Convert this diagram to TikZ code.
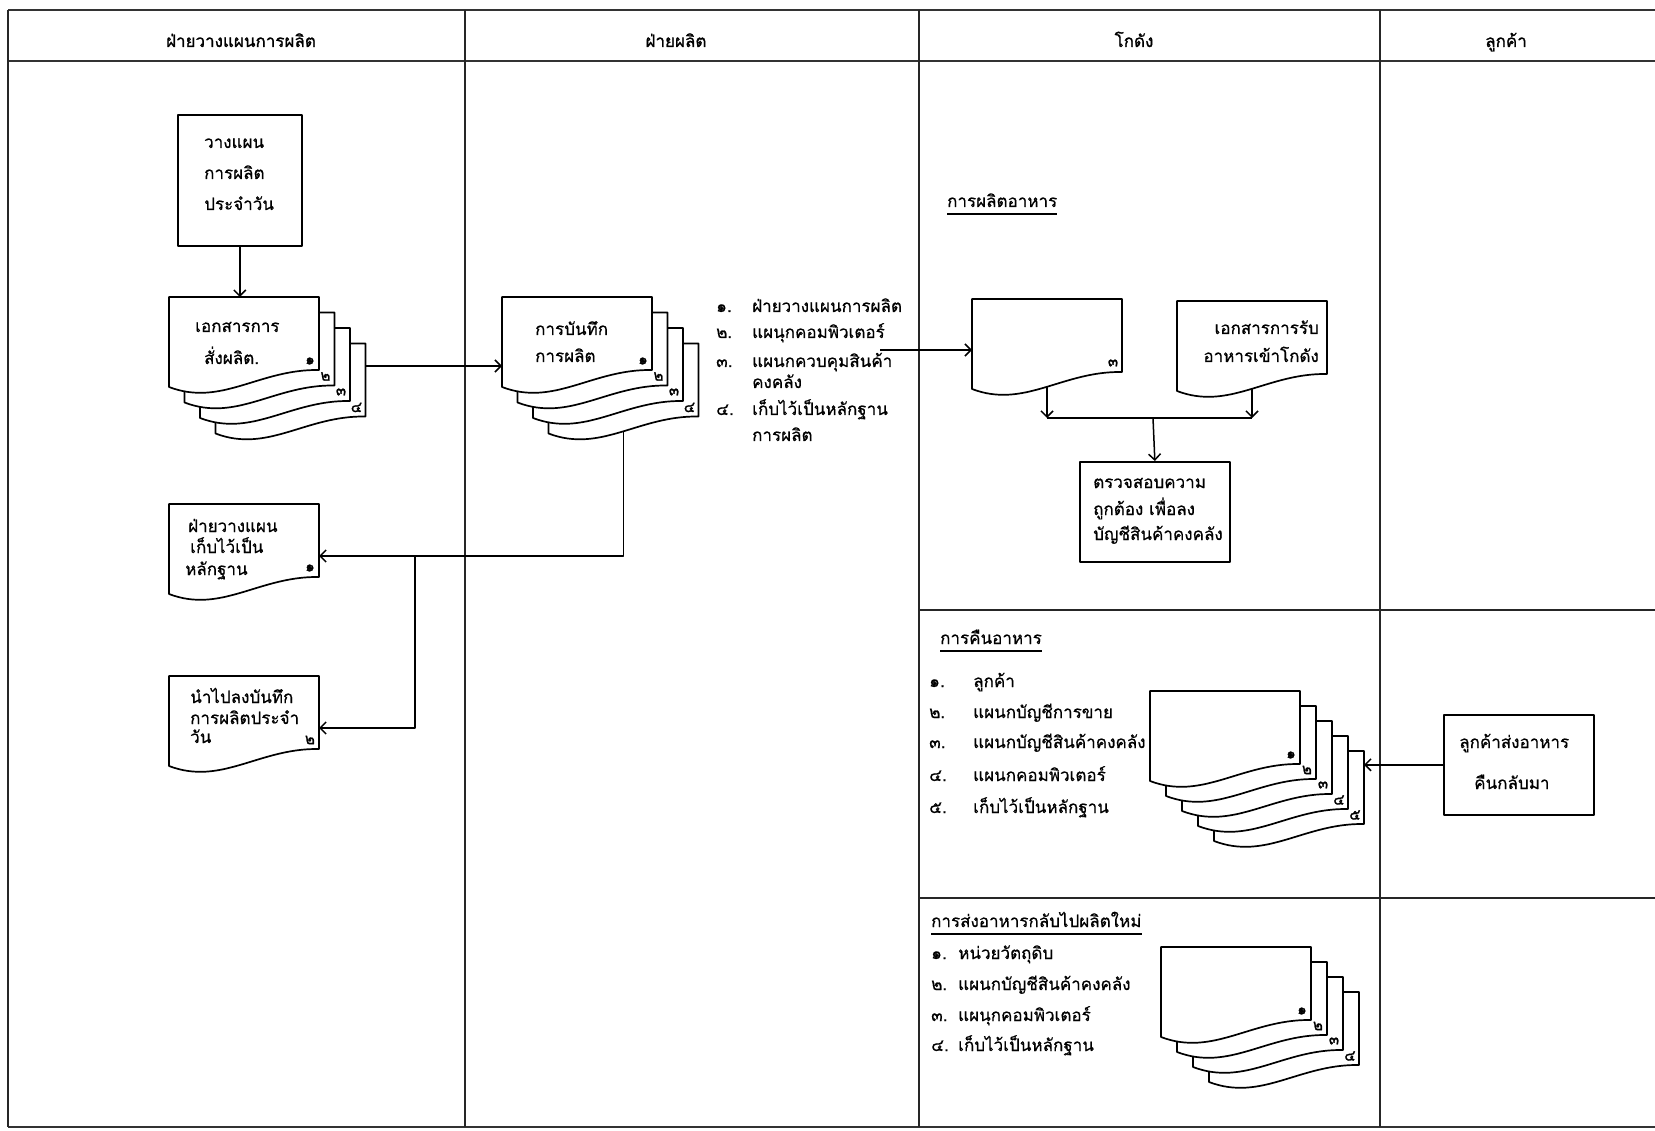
\documentclass[tikz,border=0pt]{standalone}
\usepackage{fontspec}
\newfontfamily\thai[Script=Thai,FakeBold=0.6]{Loma}
\newfontfamily\thaihd[Script=Thai,FakeBold=1.2]{Loma}
\newfontfamily\thainum[Script=Thai,FakeBold=1.5]{Loma}
\usetikzlibrary{arrows.meta}
\tikzset{
  frame/.style={line width=1.6pt, draw=black!85},
  heavy/.style={line width=2.8pt, draw=black!80},
  shp/.style={line width=1.7pt, draw=black, fill=white},
  boxst/.style={line width=1.7pt, draw=black, fill=white, inner sep=0pt, anchor=north west},
  conn/.style={line width=1.5pt},
  arr/.style={conn, -{Straight Barb[length=6pt,width=12pt,line width=1.5pt]}},
  txt/.style={inner sep=0pt, anchor=base west, font=\thai\fontsize{17}{20}\selectfont},
  rtxt/.style={txt, anchor=base east},
  hdr/.style={inner sep=0pt, anchor=base, font=\thaihd\fontsize{17}{20}\selectfont},
  num/.style={inner sep=0pt, font=\thainum\fontsize{15}{15}\selectfont},
  uline/.style={line width=1.2pt},
  doc/.pic={
    \draw[shp] (0,0) -- (150,0) -- (150,73) .. controls (90,72) and (52.5,110) .. (0,90) -- cycle;
    \coordinate (-t) at (75,0);
    \coordinate (-l) at (0,45);
    \coordinate (-r) at (150,52);
    \coordinate (-b) at (75,88);
    \node[num] (-n) at (141,64) {#1};
  }
}
\begin{document}
\begin{tikzpicture}[x=1pt,y=-1pt,line join=round]
\useasboundingbox (0,0) rectangle (1655,1131);
\fill[white] (0,0) rectangle (1655,1131);

% frame
\draw[heavy] (8,10) -- (1655,10);
\draw[heavy] (8,61) -- (1655,61);
\draw[heavy] (8,1127) -- (1655,1127);
\draw[frame] (8,10) -- (8,1127);
\draw[frame] (465,10) -- (465,1127);
\draw[frame] (919,10) -- (919,1127);
\draw[frame] (1380,10) -- (1380,1127);
\draw[frame] (919,610) -- (1655,610);
\draw[frame] (919,898) -- (1655,898);

% headers
\node[hdr] (hA) at (241,47) {ฝ่ายวางแผนการผลิต};
\node[hdr] (hB) at (676,47) {ฝ่ายผลิต};
\node[hdr] (hC) at (1134,47) {โกดัง};
\node[hdr] (hD) at (1506,47) {ลูกค้า};

% lane 1
\node[boxst, minimum width=124pt, minimum height=131pt] (plan) at (177,114) {};
\node[txt] (p1) at (204,148) {วางแผน};
\node[txt] (p2) at (204,179) {การผลิต};
\node[txt] (p3) at (204,210) {ประจำวัน};

\foreach \k/\n in {3/๔,2/๓,1/๒,0/๑}{
  \pic (s1d\k) at ({169+15.5*\k},{297+15.5*\k}) {doc=\n};
}
\node[txt] (s1t1) at (195,332) {เอกสารการ};
\node[txt] (s1t2) at (204,364) {สั่งผลิต.};

\pic (d5) at (169,504) {doc=๑};
\node[txt] (d5t1) at (188,532) {ฝ่ายวางแผน};
\node[txt] (d5t2) at (190,553) {เก็บไว้เป็น};
\node[txt] (d5t3) at (185,575) {หลักฐาน};

\pic (d6) at (169,676) {doc=๒};
\node[txt] (d6t1) at (190,703) {นำไปลงบันทึก};
\node[txt] (d6t2) at (190,724) {การผลิตประจำ};
\node[txt] (d6t3) at (190,743) {วัน};

% lane 2
\foreach \k/\n in {3/๔,2/๓,1/๒,0/๑}{
  \pic (s2d\k) at ({502+15.5*\k},{297+15.5*\k}) {doc=\n};
}
\node[txt] (s2t1) at (535,335) {การบันทึก};
\node[txt] (s2t2) at (535,362) {การผลิต};

\node[txt] (l2b1) at (716,312) {๑.};
\node[txt] (l2b2) at (716,338) {๒.};
\node[txt] (l2b3) at (716,367) {๓.};
\node[txt] (l2b4) at (716,415) {๔.};
\node[txt] (l2t1) at (752,312) {ฝ่ายวางแผนการผลิต};
\node[txt] (l2t2) at (752,338) {แผนุกคอมพิวเตอร์};
\node[txt] (l2t3) at (752,367) {แผนกควบคุมสินค้า};
\node[txt] (l2t3b) at (752,388) {คงคลัง};
\node[txt] (l2t4) at (752,415) {เก็บไว้เป็นหลักฐาน};
\node[txt] (l2t4b) at (752,441) {การผลิต};
\coordinate (lstend) at (880,350);

% lane 3, section 1
\node[txt] (h1) at (947,207) {การผลิตอาหาร};
\draw[uline] ([yshift=-7pt]h1.base west) -- ([yshift=-7pt]h1.base east);
\pic (d3) at (972,299) {doc=๓};
\pic (d4) at (1177,301) {doc=};
\node[rtxt] (d4t1) at (1319,334) {เอกสารการรับ};
\node[rtxt] (d4t2) at (1319,362) {อาหารเข้าโกดัง};
\coordinate (hz) at (1153,418);
\node[boxst, minimum width=150pt, minimum height=100pt] (check) at (1079,461) {};
\node[txt] (c1) at (1093,488) {ตรวจสอบความ};
\node[txt] (c2) at (1093,515) {ถูกต้อง เพื่อลง};
\node[txt] (c3) at (1093,540) {บัญชีสินค้าคงคลัง};

% section 2
\node[txt] (h2) at (940,644) {การคืนอาหาร};
\draw[uline] ([yshift=-7pt]h2.base west) -- ([yshift=-7pt]h2.base east);
\node[txt] (m1b) at (929,687) {๑.};
\node[txt] (m2b) at (929,718) {๒.};
\node[txt] (m3b) at (929,748) {๓.};
\node[txt] (m4b) at (929,781) {๔.};
\node[txt] (m5b) at (929,813) {๕.};
\node[txt] (m1) at (973,687) {ลูกค้า};
\node[txt] (m2) at (973,718) {แผนกบัญชีการขาย};
\node[txt] (m3) at (973,748) {แผนกบัญชีสินค้าคงคลัง};
\node[txt] (m4) at (973,781) {แผนกคอมพิวเตอร์};
\node[txt] (m5) at (973,813) {เก็บไว้เป็นหลักฐาน};
\foreach \k/\n in {4/๕,3/๔,2/๓,1/๒,0/๑}{
  \pic (s3d\k) at ({1150+16*\k},{691+15*\k}) {doc=\n};
}
\node[boxst, minimum width=150pt, minimum height=100pt] (cust) at (1443,714) {};
\node[txt] (cu1) at (1459,748) {ลูกค้าส่งอาหาร};
\node[txt] (cu2) at (1474,789) {คืนกลับมา};

% section 3
\node[txt] (h3) at (931,927) {การส่งอาหารกลับไปผลิตใหม่};
\draw[uline] ([yshift=-7pt]h3.base west) -- ([yshift=-7pt]h3.base east);
\node[txt] (n1b) at (931,959) {๑.};
\node[txt] (n2b) at (931,990) {๒.};
\node[txt] (n3b) at (931,1021) {๓.};
\node[txt] (n4b) at (931,1051) {๔.};
\node[txt] (n1) at (958,959) {หน่วยวัตถุดิบ};
\node[txt] (n2) at (958,990) {แผนกบัญชีสินค้าคงคลัง};
\node[txt] (n3) at (958,1021) {แผนุกคอมพิวเตอร์};
\node[txt] (n4) at (958,1051) {เก็บไว้เป็นหลักฐาน};
\foreach \k/\n in {3/๔,2/๓,1/๒,0/๑}{
  \pic (s4d\k) at ({1161+16*\k},{947+15*\k}) {doc=\n};
}

% connectors
\draw[arr] (plan.south) -- (plan.south |- s1d0-t);
\draw[arr] (s1d3-r |- s2d0-l) ++(0,24) coordinate (a1s) -- (a1s -| s2d0-l);
\coordinate (jx) at (415,0);
\draw[arr] (s2d3-b) |- (d5-r);
\draw[arr] (d5-r -| jx) |- (d6-r);
\draw[arr] (lstend) -- (lstend -| d3-l);
\draw[arr] (d3-b) -- (d3-b |- hz);
\draw[arr] (d4-b) -- (d4-b |- hz);
\draw[conn] (d3-b |- hz) -- (d4-b |- hz);
\draw[arr] (hz) -- (check.north);
\draw[arr] (cust.west) -- (cust.west -| s3d4-r);
\end{tikzpicture}
\end{document}
